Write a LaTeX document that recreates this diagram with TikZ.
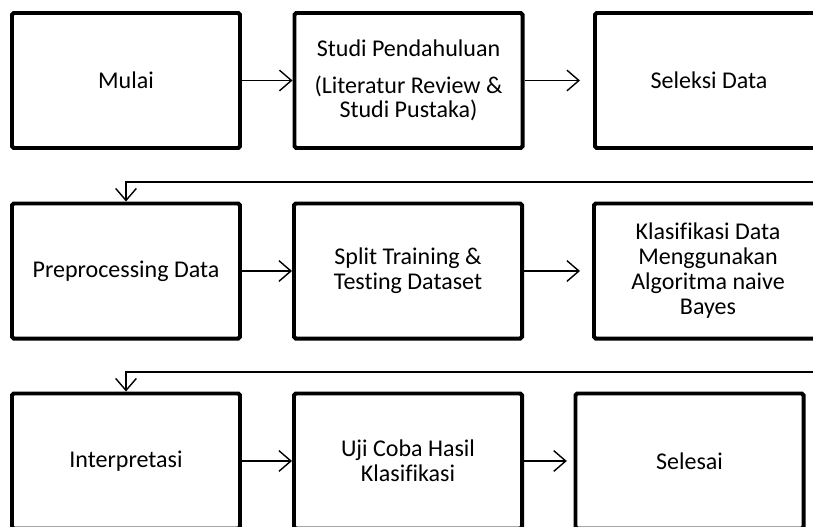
\documentclass[tikz,border=0pt]{standalone}
\usepackage{fontspec}
\setmainfont[Ligatures=NoCommon]{Carlito}
\usetikzlibrary{arrows.meta}
\tikzset{
  proc/.style={draw, line width=3.4pt, rounded corners=1.5pt, minimum width=6.84cm, minimum height=4.05cm, align=center, inner sep=0pt},
  arr/.style={line width=1.2pt, -{Straight Barb[length=0.36cm,width=0.62cm]}},
}
\begin{document}
\begin{tikzpicture}[x=0.03cm,y=-0.03cm]\fontsize{20.5}{21.3}\selectfont
\useasboundingbox (0,0) rectangle (813,526);
\clip (0,0) rectangle (813,526);
% baris pertama
\node[proc] (mulai) at (126,80.5) {Mulai};
\node[proc] (studi) at (408.5,80.5) {Studi Pendahuluan\\[10pt](Literatur Review \&\\Studi Pustaka)};
\node[proc] (seleksi) at (709,80.5) {Seleksi Data};
% baris kedua
\node[proc] (prep) at (126,271) {Preprocessing Data};
\node[proc] (split) at (408,271) {Split Training \&\\Testing Dataset};
\node[proc] (klas) at (708,271) {Klasifikasi Data\\Menggunakan\\Algoritma naive\\Bayes};
% baris ketiga
\node[proc] (interp) at (126,461) {Interpretasi};
\node[proc] (uji) at (408,461) {Uji Coba Hasil\\Klasifikasi};
\node[proc] (selesai) at (689.5,461) {Selesai};
% panah
\draw[arr] (mulai) -- (studi);
\draw[arr, shorten >=0.39cm] (studi) -- (seleksi);
\coordinate (balik1) at (820,182);
\draw[arr] (balik1) -| (prep.north);
\draw[arr] (prep) -- (split);
\draw[arr, shorten >=0.36cm] (split) -- (klas);
\coordinate (balik2) at (820,372);
\draw[arr] (balik2) -| (interp.north);
\draw[arr] (interp) -- (uji);
\draw[arr, shorten >=0.2cm] (uji) -- (selesai);
\end{tikzpicture}
\end{document}
